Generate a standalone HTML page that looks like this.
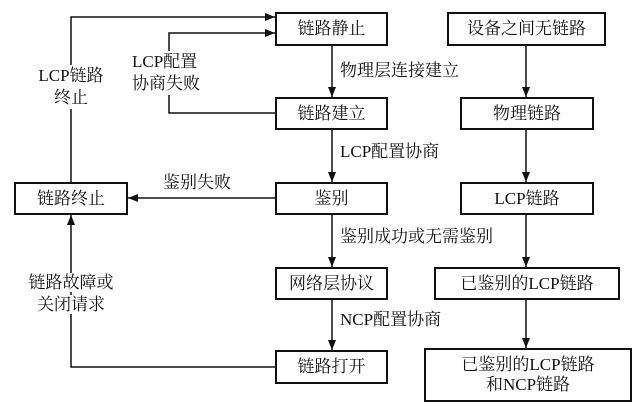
<!DOCTYPE html>
<html><head><meta charset="utf-8"><style>
body{margin:0;background:#f0f0f0;}
.c{position:relative;width:635px;height:411px;background:#fff;overflow:hidden;font-family:"Liberation Serif","Noto Serif CJK SC","Noto Serif CJK JP",serif;font-size:17px;color:#111;}
.b{position:absolute;border:2px solid #111;box-sizing:border-box;display:flex;align-items:center;justify-content:center;text-align:center;line-height:20px;}
.t{position:absolute;white-space:nowrap;line-height:22px;}
svg{position:absolute;left:0;top:0;}
</style></head><body><div class="c">
<svg width="635" height="411">
<defs><marker id="a" markerWidth="10" markerHeight="8" refX="10" refY="4" orient="auto" markerUnits="userSpaceOnUse"><path d="M0,0 L10,4 L0,8 z" fill="#111"/></marker></defs>
<g stroke="#111" stroke-width="1.5" fill="none">
<line x1="332" y1="46" x2="332" y2="97" marker-end="url(#a)"/>
<line x1="332" y1="130" x2="332" y2="182" marker-end="url(#a)"/>
<line x1="332" y1="215" x2="332" y2="267" marker-end="url(#a)"/>
<line x1="332" y1="300" x2="332" y2="350" marker-end="url(#a)"/>
<line x1="526" y1="46" x2="526" y2="97" marker-end="url(#a)"/>
<line x1="526" y1="130" x2="526" y2="182" marker-end="url(#a)"/>
<line x1="526" y1="215" x2="526" y2="267" marker-end="url(#a)"/>
<line x1="526" y1="300" x2="526" y2="348" marker-end="url(#a)"/>
<line x1="275" y1="198" x2="128" y2="198" marker-end="url(#a)"/>
<polyline points="71,182 71,17 275,17" marker-end="url(#a)"/>
<polyline points="275,113 169,113 169,33 275,33" marker-end="url(#a)"/>
<polyline points="275,367 71,367 71,215" marker-end="url(#a)"/>
</g></svg>
<div class="t" style="left:26px;top:65px;width:90px;background:#fff;text-align:center">LCP链路<br>终止</div>
<div class="t" style="left:21px;top:272px;width:100px;text-align:center"><span style="background:#fff">链路故障或</span><br><span style="background:#fff">关闭请求</span></div>
<div class="t" style="left:132px;top:51px;background:#fff">LCP配置<br>协商失败</div>
<div class="t" style="left:163px;top:172px">鉴别失败</div>
<div class="t" style="left:340px;top:60px">物理层连接建立</div>
<div class="t" style="left:340px;top:141px">LCP配置协商</div>
<div class="t" style="left:340px;top:226px">鉴别成功或无需鉴别</div>
<div class="t" style="left:340px;top:309px">NCP配置协商</div>
<div class="b" style="left:275px;top:12px;width:113px;height:34px">链路静止</div>
<div class="b" style="left:447px;top:12px;width:159px;height:34px">设备之间无链路</div>
<div class="b" style="left:275px;top:97px;width:113px;height:33px">链路建立</div>
<div class="b" style="left:460px;top:97px;width:134px;height:33px">物理链路</div>
<div class="b" style="left:14px;top:182px;width:114px;height:33px">链路终止</div>
<div class="b" style="left:275px;top:182px;width:113px;height:33px">鉴别</div>
<div class="b" style="left:460px;top:182px;width:134px;height:33px">LCP链路</div>
<div class="b" style="left:275px;top:267px;width:113px;height:33px">网络层协议</div>
<div class="b" style="left:434px;top:267px;width:186px;height:33px">已鉴别的LCP链路</div>
<div class="b" style="left:275px;top:350px;width:113px;height:34px">链路打开</div>
<div class="b" style="left:424px;top:348px;width:208px;height:54px">已鉴别的LCP链路<br>和NCP链路</div>
</div></body></html>
